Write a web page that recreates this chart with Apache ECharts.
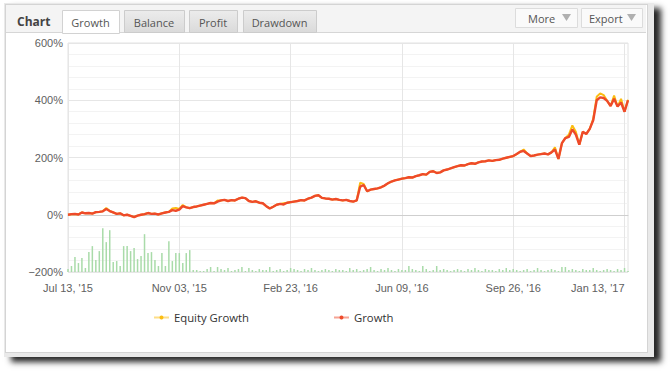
<!DOCTYPE html>
<html>
<head>
<meta charset="utf-8">
<script src="https://cdn.jsdelivr.net/npm/echarts@6/dist/echarts.min.js"></script>
<style>
  html, body { margin: 0; padding: 0; background: #fff; }
  #frame { position: absolute; left: 4px; top: 3px; width: 650px; height: 354px; background: #e9e9e9; box-shadow: 7px 5px 6px rgba(0,0,0,0.85); }
  #panel { position: absolute; left: 5px; top: 4px; width: 641px; height: 347px; background: #fff; border: 1px solid #d4d4d4; }
  #chart { position: absolute; left: 0; top: 0; width: 671px; height: 376px; }
</style>
</head>
<body>
<div id="frame"></div>
<div id="panel"></div>
<div id="chart"></div>
<script>
// Tick labels shown on the x axis (every 32nd point)
const tickLabels = ["Jul 13, '15", "Nov 03, '15", "Feb 23, '16", "Jun 09, '16", "Sep 26, '16", "Jan 13, '17"];
const tickStep = 32;

// Growth (%)
const growth = [0,2,3,1,8,5,6,4,9,10, 12,20,13,8,3,5,-2,0,-4,-8, -3,0,2,6,3,4,1,5,8,10,
  16,14,18,30,26,23,27,29,32,35, 38,41,40,46,50,52,48,51,50,56, 60,58,48,45,47,42,40,30,22,28,
  35,38,36,42,44,46,48,51,50,56, 60,66,68,59,57,56,53,55,52,50, 52,48,46,50,98,104,82,88,90,92,
  96,102,110,116,120,123,126,128,131,130, 135,138,142,140,150,152,146,148,155,158,
  162,166,170,173,172,177,180,178,183,186, 187,190,188,191,192,196,199,202,205,212,
  220,223,214,205,207,210,212,214,211,218, 228,195,250,268,272,298,280,245,290,282,
  300,330,400,410,408,398,380,405,378,392, 360,400];

// Equity Growth (%)
const equity = [0,2,3,1,8,5,6,4,9,10, 12,24,13,8,3,5,-2,0,-4,-8, -3,0,2,6,3,4,1,5,8,10,
  22,24,20,34,26,23,27,29,32,35, 38,41,40,50,50,52,48,51,50,56, 60,58,48,45,47,42,40,30,22,28,
  35,38,40,42,44,46,48,51,50,56, 60,66,68,59,57,56,53,55,52,50, 52,48,46,50,112,108,82,88,90,92,
  96,102,110,116,120,123,126,128,131,130, 135,138,142,140,150,152,146,148,155,158,
  162,166,170,173,172,177,180,178,183,186, 187,190,188,191,192,196,199,202,205,212,
  220,228,214,205,207,210,212,214,211,218, 236,195,250,268,280,312,290,245,290,282,
  300,335,412,424,418,398,380,416,378,405, 360,402];

// Green activity bars (relative units)
const bars = [3,6,15,9,14,4,20,26,12,21, 44,30,42,10,11,6,26,26,21,24, 13,16,38,19,20,12,6,19,6,31,
  11,19,19,9,19,22,2,
  2,1,1,3,5,1,5,3,2,4,1,2,3,
  5,1,4,2,1,3,2,2,5,1,2,3,1,
  2,4,3,2,1,3,2,4,2,1,2,3,2,
  1,3,2,2,1,4,2,3,1,2,3,5,2,
  1,3,2,4,2,1,3,2,2,6,3,2,1,
  6,3,1,2,6,2,3,2,1,2,3,2,1,
  3,2,4,2,1,3,2,2,1,3,2,4,2,
  3,2,1,2,3,1,2,4,2,1,2,3,2,
  1,5,5,2,3,2,1,3,2,2,4,2,1,
  2,3,2,1,3,2,4,1];

const categories = growth.map((_, i) => i);

const uiFont = "'Open Sans', 'DejaVu Sans', sans-serif";
const axisFont = "'Liberation Sans', Arial, sans-serif";

function tab(x, w, label, active) {
  return [
    { type: 'rect', shape: { x: x + 0.5, y: 10.5, width: w, height: active ? 23 : 22 },
      style: active ? { fill: '#ffffff', stroke: '#d2d2d2', lineWidth: 1 }
                    : { fill: new echarts.graphic.LinearGradient(0, 0, 0, 1, [{offset: 0, color: '#ececec'}, {offset: 1, color: '#dadada'}]), stroke: '#cccccc', lineWidth: 1 }, z: 1 },
    { type: 'text', x: x + w / 2, y: 22, style: { text: label, fill: '#555', font: '11px ' + uiFont, align: 'center', verticalAlign: 'middle' }, z: 2 }
  ];
}
function button(x, w, label, textX) {
  return [
    { type: 'rect', shape: { x: x + 0.5, y: 8.5, width: w, height: 19 }, style: { fill: '#fafafa', stroke: '#dcdcdc', lineWidth: 1 }, z: 1 },
    { type: 'text', x: textX, y: 18, style: { text: label, fill: '#555', font: '11px ' + uiFont, verticalAlign: 'middle' }, z: 2 },
    { type: 'polygon', shape: { points: [[x + w - 15, 14], [x + w - 6, 14], [x + w - 10.5, 21]] }, style: { fill: '#b0b0b0' }, z: 2 }
  ];
}

const graphics = [
  { type: 'rect', shape: { x: 6, y: 5, width: 640, height: 28 }, style: { fill: '#f4f4f4' }, z: 0 },
  { type: 'line', shape: { x1: 6, y1: 32.5, x2: 646, y2: 32.5 }, style: { stroke: '#d6d6d6', lineWidth: 1 }, z: 0 },
  { type: 'text', x: 17, y: 21, style: { text: 'Chart', fill: '#444', font: 'bold 12px ' + uiFont, verticalAlign: 'middle' }, z: 2 }
].concat(
  tab(62, 57, 'Growth', true),
  tab(124, 60, 'Balance', false),
  tab(189, 48, 'Profit', false),
  tab(243, 73, 'Drawdown', false),
  button(515, 62, 'More', 528),
  button(581, 61, 'Export', 589)
);

const chart = echarts.init(document.getElementById('chart'), null, { renderer: 'svg' });
const showTick = (i) => i % tickStep === 0;
const legendCommon = {
  itemWidth: 15, itemHeight: 5, itemGap: 10, padding: 0,
  lineStyle: { opacity: 0.5 },
  textStyle: { color: '#333', fontSize: 11.3, fontFamily: uiFont }
};

chart.setOption({
  animation: false,
  backgroundColor: 'transparent',
  graphic: graphics,
  grid: { left: 68, right: 43, top: 43, bottom: 104, show: true, borderColor: '#e2e2e2', borderWidth: 1 },
  legend: [
    Object.assign({ data: ['Equity Growth'], left: 153, top: 312 }, legendCommon),
    Object.assign({ data: ['Growth'], left: 333, top: 312 }, legendCommon)
  ],
  xAxis: {
    type: 'category',
    data: categories,
    boundaryGap: false,
    axisLine: { show: true, lineStyle: { color: '#cfcfcf' } },
    axisTick: { show: false },
    axisLabel: {
      interval: showTick,
      formatter: (v, i) => tickLabels[Math.round(i / tickStep)],
      color: '#606060', fontSize: 11, fontFamily: axisFont, margin: 10,
      alignMaxLabel: 'right'
    },
    splitLine: { show: true, interval: showTick, lineStyle: { color: '#e6e6e6' } }
  },
  yAxis: [
    {
      type: 'value', min: -200, max: 600, interval: 200,
      axisLine: { show: false },
      axisTick: { show: false },
      axisLabel: { formatter: (v) => (v < 0 ? '\u2212' + Math.abs(v) : v) + '%', color: '#606060', fontSize: 11, fontFamily: axisFont, margin: 5 },
      splitLine: { lineStyle: { color: '#e6e6e6' } },
      minorTick: { show: false, splitNumber: 5 },
      minorSplitLine: { show: true, lineStyle: { color: '#f3f3f3' } }
    },
    { type: 'value', min: 0, max: 230, show: false }
  ],
  series: [
    { name: 'Activity', type: 'bar', yAxisIndex: 1, data: bars, barWidth: 1.5, silent: true,
      itemStyle: { color: '#a9dba9' } },
    { name: 'Equity Growth', type: 'line', data: equity, color: '#fbbd12', symbol: 'circle', symbolSize: 4, showSymbol: false,
      lineStyle: { width: 2 } },
    { name: 'Growth', type: 'line', data: growth, color: '#ee4a2a', symbol: 'circle', symbolSize: 4, showSymbol: false,
      lineStyle: { width: 2.4 } }
  ]
});
</script>
</body>
</html>
